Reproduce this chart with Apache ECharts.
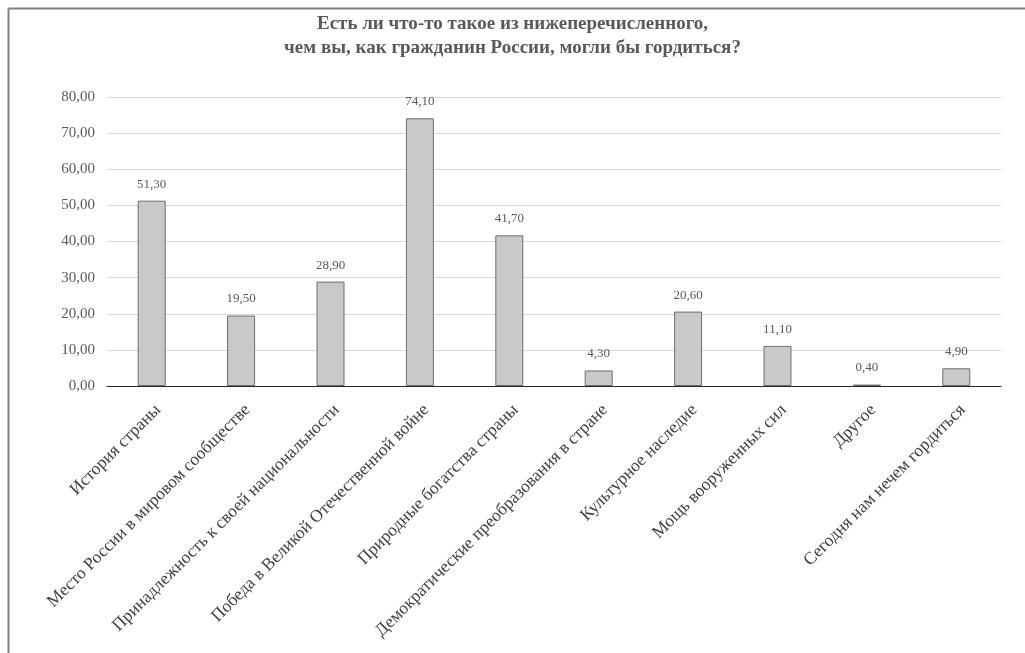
<!DOCTYPE html>
<html><head><meta charset="utf-8">
<script src="https://cdn.jsdelivr.net/npm/echarts@6/dist/echarts.min.js"></script>
<style>html,body{margin:0;padding:0;background:#fff}#c{width:1025px;height:653px}</style>
</head><body><div id="c"></div>
<script>
var titleText = 'Есть ли что-то такое из нижеперечисленного,\nчем вы, как гражданин России, могли бы гордиться?';
var categories = ['История страны','Место России в мировом сообществе','Принадлежность к своей национальности','Победа в Великой Отечественной войне','Природные богатства страны','Демократические преобразования в стране','Культурное наследие','Мощь вооруженных сил','Другое','Сегодня нам нечем гордиться'];
var values = [51.3, 19.5, 28.9, 74.1, 41.7, 4.3, 20.6, 11.1, 0.4, 4.9];
var yTicks = [0, 10, 20, 30, 40, 50, 60, 70, 80];

var font = '"Liberation Serif","Times New Roman",serif';
function fmt(v){ return v.toFixed(2).replace('.', ','); }
var chart = echarts.init(document.getElementById('c'));
chart.setOption({
  animation: false,
  title: {text: titleText, left: 'center', top: 7,
    textStyle: {fontFamily: font, fontWeight: 'bold', fontSize: 19, color: '#595959', lineHeight: 24}},
  grid: {left: 107, right: 24, top: 97, bottom: 267, containLabel: false},
  graphic: [
    {type: 'line', shape: {x1: 8.5, y1: 8.5, x2: 1025, y2: 8.5}, style: {stroke: '#808080', lineWidth: 2}},
    {type: 'line', shape: {x1: 8.5, y1: 8.5, x2: 8.5, y2: 653}, style: {stroke: '#808080', lineWidth: 2}}
  ],
  xAxis: {type: 'category', data: categories,
    axisLine: {lineStyle: {color: '#262626', width: 1}}, axisTick: {show: false},
    axisLabel: {rotate: 45, interval: 0, margin: 15, verticalAlign: 'top', fontFamily: font, fontSize: 17.5, color: '#404040'}},
  yAxis: {type: 'value', min: yTicks[0], max: yTicks[yTicks.length-1], interval: 10,
    axisLine: {show: false}, axisTick: {show: false},
    splitLine: {lineStyle: {color: '#d9d9d9', width: 1}},
    axisLabel: {formatter: function(v){return fmt(v);}, fontFamily: font, fontSize: 15, color: '#595959', margin: 12}},
  series: [{type: 'bar', data: values, barWidth: 28,
    itemStyle: {color: '#c9c9c9', borderColor: '#6e6e6e', borderWidth: 1},
    label: {show: true, position: 'top', distance: 10, formatter: function(p){return fmt(p.value);},
      fontFamily: font, fontSize: 13, color: '#595959'}}]
});
</script></body></html>
